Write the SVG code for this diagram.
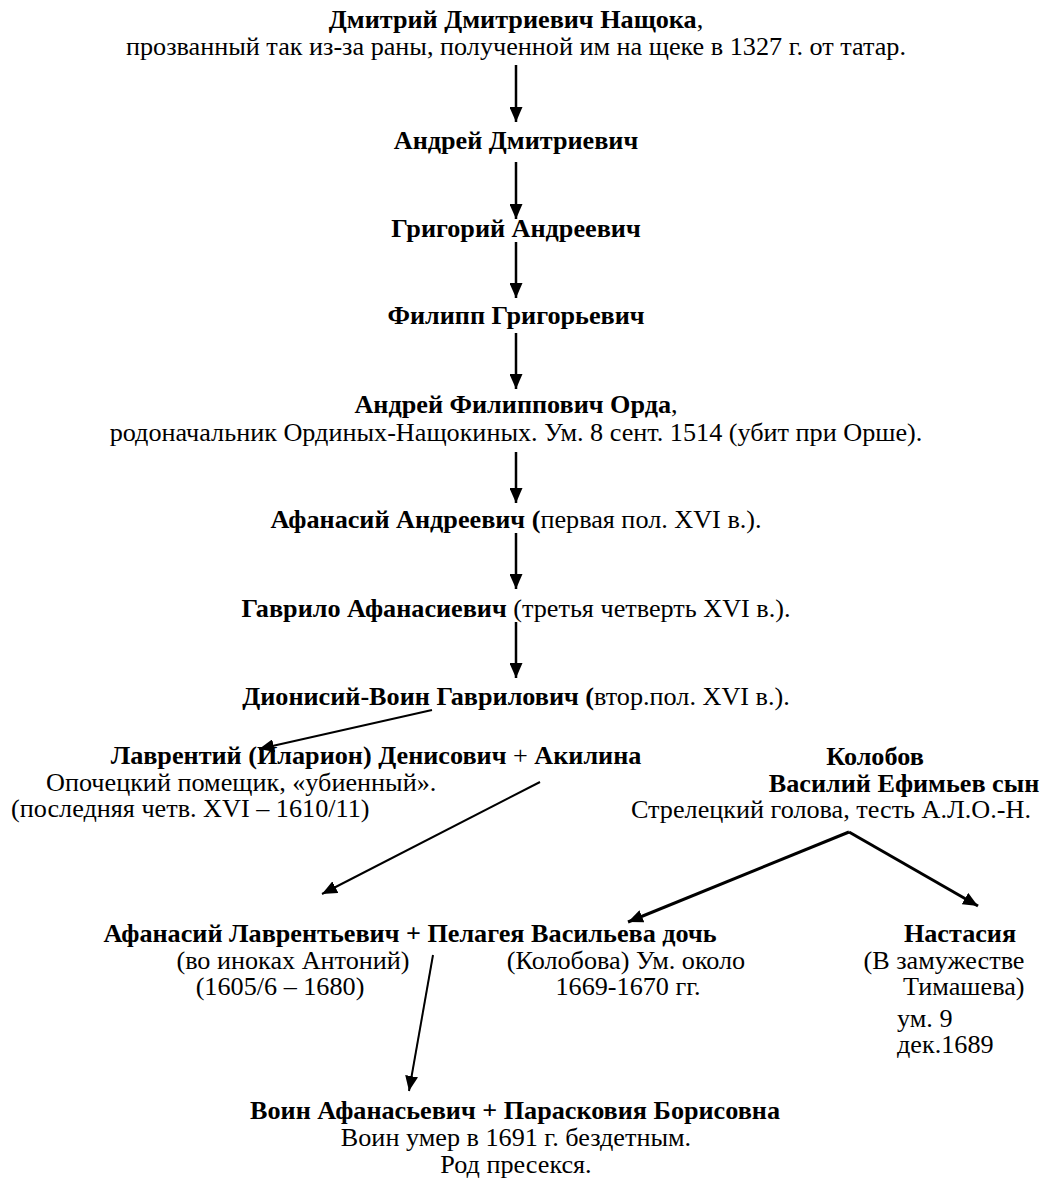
<svg xmlns="http://www.w3.org/2000/svg" width="1044" height="1180" viewBox="0 0 1044 1180">
<defs>
<marker id="ah" markerUnits="userSpaceOnUse" markerWidth="15" markerHeight="13" refX="15" refY="6.5" orient="auto">
<path d="M0,0 L15,6.5 L0,13 z" fill="#000"/>
</marker>
<style>
text{font-family:"Liberation Serif","Times New Roman",serif;font-size:26.2px;fill:#000}
.b{font-weight:bold}
.c{text-anchor:middle}
.ln{stroke:#000;stroke-width:2;fill:none;marker-end:url(#ah)}
.v{stroke-width:2.5}
.k{stroke-width:3}
</style>
</defs>
<rect width="1044" height="1180" fill="#fff"/>
<g id="connectors">
<line class="ln v" x1="516" y1="65" x2="516" y2="122"/>
<line class="ln v" x1="516" y1="162" x2="516" y2="219"/>
<line class="ln v" x1="516" y1="242" x2="516" y2="298"/>
<line class="ln v" x1="516" y1="333" x2="516" y2="389"/>
<line class="ln v" x1="516" y1="452" x2="516" y2="503"/>
<line class="ln v" x1="516" y1="533" x2="516" y2="589"/>
<line class="ln v" x1="516" y1="622" x2="516" y2="678"/>
<line class="ln" x1="432" y1="710" x2="259" y2="749"/>
<line class="ln" x1="540" y1="782" x2="322" y2="894"/>
<line class="ln k" x1="849" y1="832" x2="628" y2="922"/>
<line class="ln k" x1="849" y1="832" x2="978" y2="906"/>
<line class="ln" x1="433" y1="955" x2="409" y2="1091"/>
</g>
<g id="n1"><text class="c" x="516" y="28"><tspan class="b">Дмитрий Дмитриевич Нащока</tspan>,</text>
<text class="c" x="516" y="55">прозванный так из-за раны, полученной им на щеке в 1327 г. от татар.</text></g>
<g id="n2"><text class="c b" x="516" y="149">Андрей Дмитриевич</text></g>
<g id="n3"><text class="c b" x="516" y="237">Григорий Андреевич</text></g>
<g id="n4"><text class="c b" x="516" y="324">Филипп Григорьевич</text></g>
<g id="n5"><text class="c" x="516" y="413"><tspan class="b">Андрей Филиппович Орда</tspan>,</text>
<text class="c" x="516" y="441">родоначальник Ординых-Нащокиных. Ум. 8 сент. 1514 (убит при Орше).</text></g>
<g id="n6"><text class="c" x="516" y="528"><tspan class="b">Афанасий Андреевич (</tspan>первая пол. XVI в.).</text></g>
<g id="n7"><text class="c" x="516" y="617"><tspan class="b">Гаврило Афанасиевич</tspan> (третья четверть XVI в.).</text></g>
<g id="n8"><text class="c" x="516" y="705"><tspan class="b">Дионисий-Воин Гаврилович (</tspan>втор.пол. XVI в.).</text></g>
<g id="n9"><text class="c" x="376" y="764"><tspan class="b">Лаврентий (Иларион) Денисович</tspan> + <tspan class="b">Акилина</tspan></text>
<text x="46" y="791">Опочецкий помещик, «убиенный».</text>
<text x="11" y="817">(последняя четв. XVI – 1610/11)</text></g>
<g id="n10"><text class="c b" x="875" y="765">Колобов</text>
<text class="c b" x="904" y="792">Василий Ефимьев сын</text>
<text class="c" x="831" y="818">Стрелецкий голова, тесть А.Л.О.-Н.</text></g>
<g id="n11"><text class="c b" x="410" y="942">Афанасий Лаврентьевич + Пелагея Васильева дочь</text>
<text class="c" x="293" y="969">(во иноках Антоний)</text>
<text class="c" x="280" y="995">(1605/6 – 1680)</text>
<text class="c" x="626" y="969">(Колобова) Ум. около</text>
<text class="c" x="628" y="995">1669-1670 гг.</text></g>
<g id="n12"><text class="c b" x="960" y="942">Настасия</text>
<text class="c" x="944" y="969">(В замужестве</text>
<text x="903" y="995">Тимашева)</text>
<text x="897" y="1027">ум. 9</text>
<text x="897" y="1053">дек.1689</text></g>
<g id="n13"><text class="c b" x="515" y="1119">Воин Афанасьевич + Парасковия Борисовна</text>
<text class="c" x="516" y="1146">Воин умер в 1691 г. бездетным.</text>
<text class="c" x="516" y="1173">Род пресекся.</text></g>
</svg>
